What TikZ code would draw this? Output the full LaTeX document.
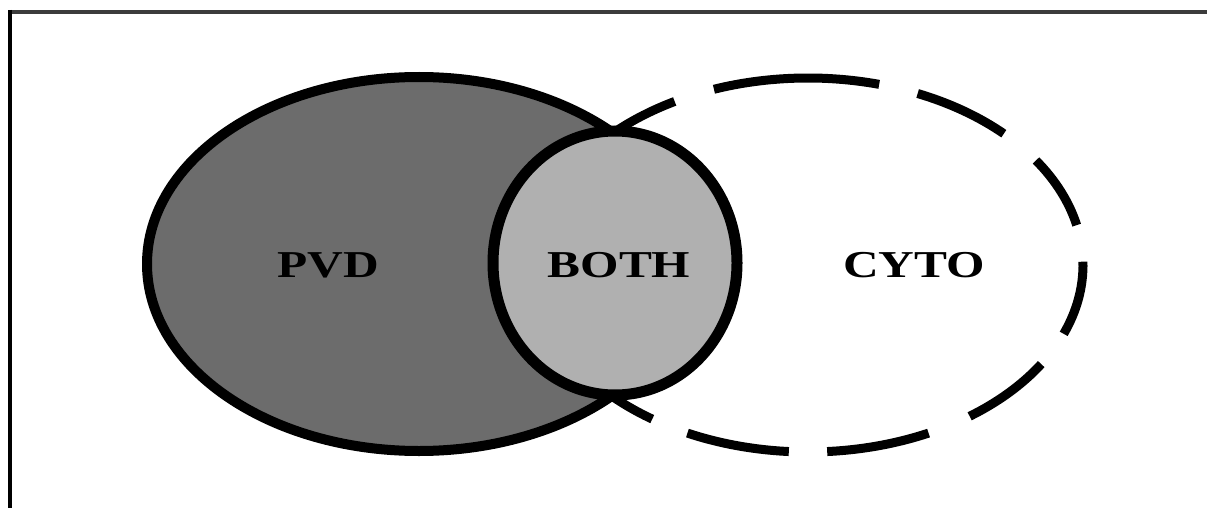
\documentclass[tikz,border=0pt]{standalone}
\usepackage{fontspec}
\setmainfont{Liberation Serif}
\usetikzlibrary{calc}
\definecolor{pvdfill}{HTML}{6C6C6C}
\definecolor{bothfill}{HTML}{B0B0B0}
\definecolor{framegray}{HTML}{3C3C3C}
\begin{document}
\begin{tikzpicture}[x=1pt,y=-1pt,
  outline/.style={line width=10pt},
  dashseg/.style={line width=9pt, line cap=butt},
  lbl/.style={font=\fontsize{38}{40}\selectfont\bfseries, xscale=1.3, inner sep=0pt}]
\useasboundingbox (0,0) rectangle (1207,508);
\fill[white] (0,0) rectangle (1207,508);
% frame
\draw[framegray, line width=4pt] (8,12) -- (1207,12);
\draw[black, line width=4pt] (10,10) -- (10,508);
\coordinate (pvdc) at (419,264);
\coordinate (cytoc) at (808,265);
\coordinate (bothc) at (615,263);
% PVD ellipse
\draw[outline, fill=pvdfill] (pvdc) ellipse [x radius=272, y radius=187];
% CYTO dashed ellipse, drawn as arcs
\foreach \a/\b in {-140/-119, -110/-75, -66.5/-44.6, -34/-12.3, -1/21.6, 32/54, 64/86, 94/116, 124.5/140}{
  \draw[dashseg] ($(cytoc)+(\a:275 and 187)$) arc[start angle=\a, end angle=\b, x radius=275, y radius=187];
}
% BOTH circle
\draw[outline, line width=11pt, fill=bothfill] (bothc) ellipse [x radius=122, y radius=132];
% labels
\node[lbl] (pvd) at (328,265) {PVD};
\node[lbl] (both) at (619,265) {BOTH};
\node[lbl] (cyto) at (914,265) {CYTO};
\end{tikzpicture}
\end{document}
